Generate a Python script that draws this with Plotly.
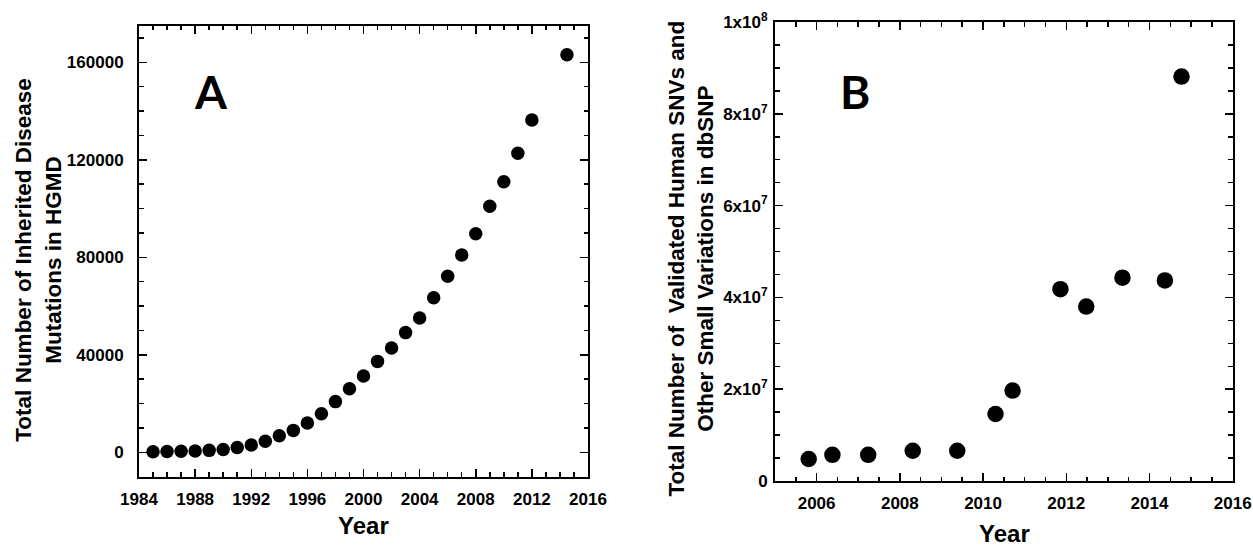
import plotly.graph_objects as go

# ---------------- data ----------------
years_a = [1985, 1986, 1987, 1988, 1989, 1990, 1991, 1992, 1993, 1994,
           1995, 1996, 1997, 1998, 1999, 2000, 2001, 2002, 2003, 2004,
           2005, 2006, 2007, 2008, 2009, 2010, 2011, 2012, 2014.5]
mutations_a = [200, 300, 400, 500, 800, 1200, 2000, 3000, 4500, 6800,
               9000, 12000, 15800, 20800, 26100, 31300, 37300, 42800, 49100, 55100,
               63400, 72200, 80900, 89700, 100900, 111000, 122700, 136300, 163100]

years_b = [2005.81, 2006.38, 2007.24, 2008.31, 2009.38, 2010.30, 2010.71,
           2011.86, 2012.48, 2013.35, 2014.37, 2014.77]
variants_b = [4.8e6, 5.7e6, 5.7e6, 6.6e6, 6.6e6, 14.6e6, 19.7e6,
              41.8e6, 38.0e6, 44.3e6, 43.7e6, 88.1e6]

a_xticks = [1984, 1988, 1992, 1996, 2000, 2004, 2008, 2012, 2016]
a_yticks = [0, 40000, 80000, 120000, 160000]
a_yticktext = ["0", "40000", "80000", "120000", "160000"]
b_xticks = [2006, 2008, 2010, 2012, 2014, 2016]
b_yticks = [0, 2e7, 4e7, 6e7, 8e7, 1e8]
b_yticktext = ["0", "2x10<sup>7</sup>", "4x10<sup>7</sup>", "6x10<sup>7</sup>",
               "8x10<sup>7</sup>", "1x10<sup>8</sup>"]

W, H = 1253, 547
FONT = "Liberation Sans, Arial, sans-serif"

fig = go.Figure()
fig.add_trace(go.Scatter(x=years_a, y=mutations_a, mode="markers",
                         marker=dict(color="black", size=13.5, line=dict(width=0)),
                         xaxis="x", yaxis="y", showlegend=False))
fig.add_trace(go.Scatter(x=years_b, y=variants_b, mode="markers",
                         marker=dict(color="black", size=16.5, line=dict(width=0)),
                         xaxis="x2", yaxis="y2", showlegend=False))


def px_dom(a, b, total):
    return [a / total, b / total]


def ydom(top, bottom):
    return [1 - bottom / H, 1 - top / H]


tickfont = dict(family=FONT, size=17, color="black", weight="bold")
common = dict(showline=True, linewidth=2, linecolor="black", mirror="ticks",
              ticks="inside", ticklen=8, tickwidth=1.5, tickcolor="black",
              showgrid=False, zeroline=False, tickfont=tickfont, fixedrange=True,
              automargin=False)

fig.update_layout(
    width=W, height=H,
    margin=dict(l=0, r=0, t=0, b=0, pad=0, autoexpand=False),
    paper_bgcolor="white", plot_bgcolor="white",
    font=dict(family=FONT, color="black"),
    xaxis=dict(domain=px_dom(139, 588, W), range=[1984, 2016],
               tickvals=a_xticks,
               minor=dict(ticks="inside", ticklen=4.5, dtick=1, tick0=1984,
                          tickwidth=1.5, tickcolor="black"),
               ticklabelstandoff=6, anchor="y", **common),
    yaxis=dict(domain=ydom(25.7, 476.7), range=[-10000, 175000],
               tickvals=a_yticks, ticktext=a_yticktext,
               minor=dict(ticks="inside", ticklen=4.5, dtick=10000, tick0=0,
                          tickwidth=1.5, tickcolor="black"),
               ticklabelstandoff=10, anchor="x", **common),
    xaxis2=dict(domain=px_dom(775, 1232.7, W), range=[2005, 2016],
                tickvals=b_xticks,
                minor=dict(ticks="inside", ticklen=4.5, dtick=0.5, tick0=2005,
                           tickwidth=1.5, tickcolor="black"),
                ticklabelstandoff=6, anchor="y2", **common),
    yaxis2=dict(domain=ydom(22, 481), range=[0, 1e8],
                tickvals=b_yticks, ticktext=b_yticktext,
                minor=dict(ticks="inside", ticklen=4.5, dtick=5e6, tick0=0,
                           tickwidth=1.5, tickcolor="black"),
                ticklabelstandoff=2, anchor="x2", **common),
)

title_font = dict(family=FONT, size=22.5, color="black", weight="bold")
annotations = [
    dict(text="Total Number of Inherited Disease<br>Mutations in HGMD",
         x=38 / W, y=1 - 260.7 / H, textangle=-90, font=title_font),
    dict(text="Total Number of &nbsp;Validated Human SNVs and<br>Other Small Variations in dbSNP",
         x=690.6 / W, y=1 - 259 / H, textangle=-90, font=title_font),
    dict(text="Year", x=363.5 / W, y=1 - 525.7 / H,
         font=dict(family=FONT, size=24, color="black", weight="bold")),
    dict(text="Year", x=1004 / W, y=1 - 533 / H,
         font=dict(family=FONT, size=24, color="black", weight="bold")),
    dict(text="A", x=211 / W, y=1 - 91 / H,
         font=dict(family="Lato, Open Sans, sans-serif", size=46, color="black", weight="bold")),
    dict(text="B", x=855 / W, y=1 - 92 / H,
         font=dict(family="Lato, Open Sans, sans-serif", size=46, color="black", weight="bold")),
]
for a in annotations:
    a.update(xref="paper", yref="paper", xanchor="center", yanchor="middle",
             showarrow=False)
fig.update_layout(annotations=annotations)

fig.write_html(
    "out.html",
    config={"displayModeBar": False, "staticPlot": True},
    post_script="document.body.style.margin='0';document.body.style.overflow='hidden';",
)
